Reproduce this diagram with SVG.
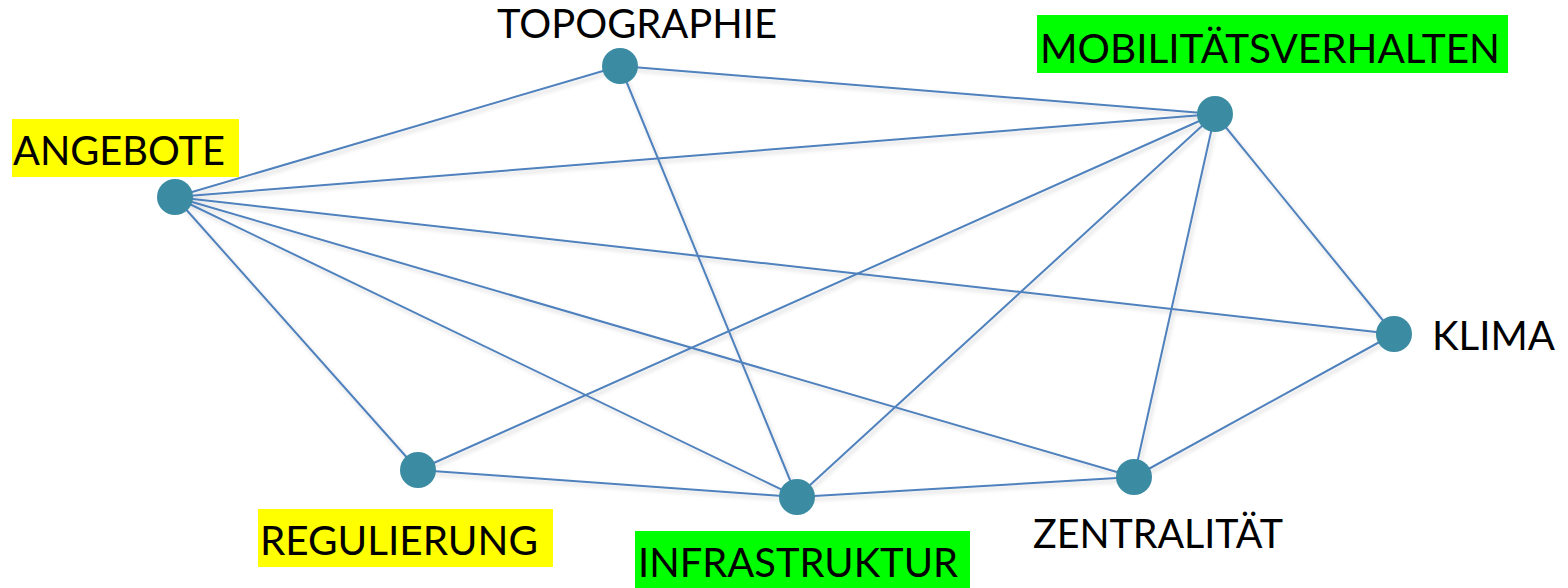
<svg xmlns="http://www.w3.org/2000/svg" width="1568" height="588" viewBox="0 0 1568 588">
<defs>
<filter id="sh" x="-5%" y="-5%" width="110%" height="110%">
<feGaussianBlur in="SourceAlpha" stdDeviation="2"/>
<feOffset dx="2" dy="3" result="b"/>
<feComponentTransfer><feFuncA type="linear" slope="0.18"/></feComponentTransfer>
<feMerge><feMergeNode/><feMergeNode in="SourceGraphic"/></feMerge>
</filter>
</defs>
<style>
.e{stroke:#4F81BD;stroke-width:2;fill:none}
.n{fill:#3B8BA3}
.t{font-family:Lato,"Open Sans","Liberation Sans",sans-serif;font-size:41px;fill:#000}
.y{fill:#FFFF00}
.g{fill:#00FF00}
</style>
<rect width="1568" height="588" fill="#fff"/>
<g id="connectors" filter="url(#sh)">
<line class="e" x1="620" y1="66" x2="1215" y2="114"/>
<line class="e" x1="620" y1="66" x2="175" y2="197"/>
<line class="e" x1="620" y1="66" x2="797" y2="497"/>
<line class="e" x1="175" y1="197" x2="1215" y2="114"/>
<line class="e" x1="175" y1="197" x2="1394" y2="334"/>
<line class="e" x1="175" y1="197" x2="1134" y2="477"/>
<line class="e" x1="175" y1="197" x2="797" y2="497"/>
<line class="e" x1="175" y1="197" x2="418" y2="470"/>
<line class="e" x1="1215" y1="114" x2="418" y2="470"/>
<line class="e" x1="1215" y1="114" x2="797" y2="497"/>
<line class="e" x1="1215" y1="114" x2="1134" y2="477"/>
<line class="e" x1="1215" y1="114" x2="1394" y2="334"/>
<line class="e" x1="1394" y1="334" x2="1134" y2="477"/>
<line class="e" x1="418" y1="470" x2="797" y2="497"/>
<line class="e" x1="797" y1="497" x2="1134" y2="477"/>
</g>
<g id="topographie">
<circle class="n" cx="620" cy="66" r="18"/>
<text class="t" x="497" y="38" textLength="280" lengthAdjust="spacingAndGlyphs">TOPOGRAPHIE</text>
</g>
<g id="mobilitaetsverhalten">
<circle class="n" cx="1215" cy="114" r="18"/>
<rect class="g" x="1037" y="15" width="471" height="58"/>
<text class="t" x="1040" y="63" textLength="460" lengthAdjust="spacingAndGlyphs">MOBILITÄTSVERHALTEN</text>
</g>
<g id="angebote">
<circle class="n" cx="175" cy="197" r="18"/>
<rect class="y" x="12" y="119" width="227" height="58"/>
<text class="t" x="13" y="165" textLength="212" lengthAdjust="spacingAndGlyphs">ANGEBOTE</text>
</g>
<g id="klima">
<circle class="n" cx="1394" cy="334" r="18"/>
<text class="t" x="1432" y="350" textLength="123" lengthAdjust="spacingAndGlyphs">KLIMA</text>
</g>
<g id="regulierung">
<circle class="n" cx="418" cy="470" r="18"/>
<rect class="y" x="258" y="509" width="295" height="58"/>
<text class="t" x="260" y="555" textLength="278" lengthAdjust="spacingAndGlyphs">REGULIERUNG</text>
</g>
<g id="infrastruktur">
<circle class="n" cx="797" cy="497" r="18"/>
<rect class="g" x="635" y="531" width="335" height="57"/>
<text class="t" x="638" y="577" textLength="320" lengthAdjust="spacingAndGlyphs">INFRASTRUKTUR</text>
</g>
<g id="zentralitaet">
<circle class="n" cx="1134" cy="477" r="18"/>
<text class="t" x="1033" y="548" textLength="250" lengthAdjust="spacingAndGlyphs">ZENTRALITÄT</text>
</g>
</svg>
